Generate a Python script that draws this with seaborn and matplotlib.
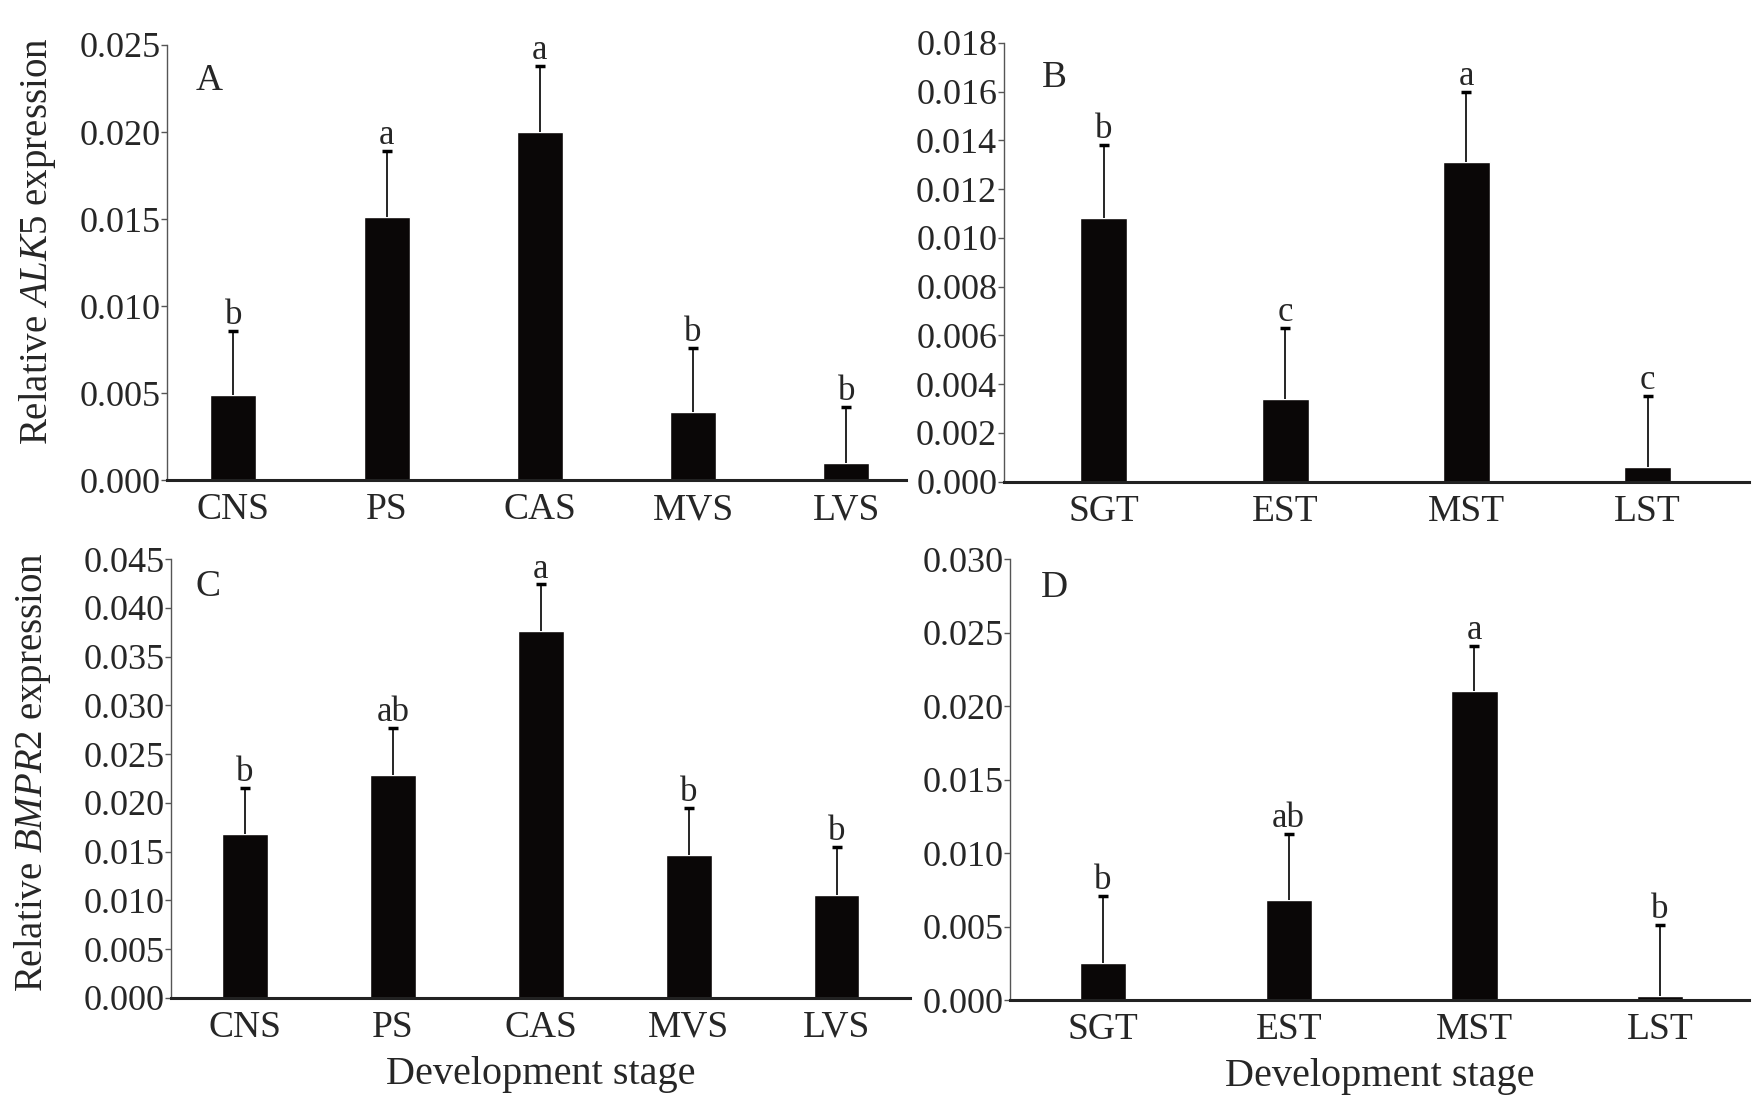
import matplotlib
matplotlib.use("Agg")
import numpy as np
import pandas as pd
import seaborn as sns
import matplotlib.pyplot as plt

# categories
stages = ["CNS", "PS", "CAS", "MVS", "LVS"]
phases = ["SGT", "EST", "MST", "LST"]

# A: ALK5 by development stage
alk5_stage = [0.0049, 0.0151, 0.0200, 0.0039, 0.0010]
alk5_stage_err = [0.0037, 0.0038, 0.0038, 0.0037, 0.0032]
alk5_stage_sig = ["b", "a", "a", "b", "b"]

# B: ALK5 by phase
alk5_phase = [0.0108, 0.0034, 0.0131, 0.0006]
alk5_phase_err = [0.0030, 0.0029, 0.0029, 0.0029]
alk5_phase_sig = ["b", "c", "a", "c"]

# C: BMPR2 by development stage
bmpr2_stage = [0.0168, 0.0229, 0.0376, 0.0147, 0.0106]
bmpr2_stage_err = [0.0047, 0.0048, 0.0048, 0.0048, 0.0049]
bmpr2_stage_sig = ["b", "ab", "a", "b", "b"]

# D: BMPR2 by phase
bmpr2_phase = [0.0025, 0.0068, 0.0210, 0.0003]
bmpr2_phase_err = [0.0046, 0.0045, 0.0031, 0.0048]
bmpr2_phase_sig = ["b", "ab", "a", "b"]

sns.set_theme(style="ticks")
plt.rcParams["font.family"] = ["Liberation Serif", "DejaVu Serif"]
plt.rcParams["mathtext.fontset"] = "custom"
plt.rcParams["mathtext.rm"] = "Liberation Serif"
plt.rcParams["mathtext.it"] = "Liberation Serif:italic"

BAR = "#0a0707"

fig = plt.figure(figsize=(17.58, 10.97), dpi=100, facecolor="white")


def panel(rect, cats, vals, errs, sigs, ymax, ystep, xlim, letter, width):
    ax = fig.add_axes(rect)
    df = pd.DataFrame({"stage": cats, "value": vals})
    sns.barplot(data=df, x="stage", y="value", color=BAR, width=width,
                saturation=1, errorbar=None, ax=ax)
    pos = np.arange(len(cats))
    _, caps, _ = ax.errorbar(pos, vals, yerr=[np.zeros(len(cats)), errs],
                             fmt="none", ecolor="black", elinewidth=1.2,
                             capsize=3.5, capthick=2.5)
    # only the upper cap is drawn in the original
    caps[0].set_visible(False)
    for x, v, e, s in zip(pos, vals, errs, sigs):
        ax.annotate(s, (x, v + e), xytext=(0, 5), textcoords="offset points",
                    ha="center", va="baseline", fontsize=25)
    ax.set_ylim(0, ymax)
    ax.set_xlim(*xlim)
    ticks = np.arange(0, ymax + ystep / 2, ystep)
    ax.set_yticks(ticks)
    ax.set_yticklabels([f"{t:.3f}" for t in ticks])
    ax.tick_params(axis="y", length=4, width=1, pad=1, labelsize=26,
                   color="#555555")
    ax.tick_params(axis="x", length=0, pad=9, labelsize=27)
    sns.despine(ax=ax)
    ax.spines["left"].set_color("#555555")
    ax.spines["left"].set_linewidth(1)
    ax.spines["bottom"].set_color("#222222")
    ax.spines["bottom"].set_linewidth(2.2)
    ax.set_xlabel("")
    ax.set_ylabel("")
    ax.text(letter[1], letter[2], letter[0], transform=ax.transAxes,
            ha="center", va="center", fontsize=27)
    return ax


ax_a = panel([0.0952, 0.5621, 0.4202, 0.3969], stages, alk5_stage,
             alk5_stage_err, alk5_stage_sig, 0.025, 0.005, (-0.43, 4.39),
             ("A", 0.056, 0.917), 0.30)
ax_b = panel([0.5712, 0.5610, 0.4237, 0.4000], phases, alk5_phase,
             alk5_phase_err, alk5_phase_sig, 0.018, 0.002, (-0.55, 3.56),
             ("B", 0.067, 0.92), 0.26)
ax_c = panel([0.0974, 0.0903, 0.4205, 0.4000], stages, bmpr2_stage,
             bmpr2_stage_err, bmpr2_stage_sig, 0.045, 0.005, (-0.50, 4.50),
             ("C", 0.05, 0.936), 0.31)
ax_d = panel([0.5747, 0.0882, 0.4202, 0.4021], phases, bmpr2_phase,
             bmpr2_phase_err, bmpr2_phase_sig, 0.030, 0.005, (-0.50, 3.48),
             ("D", 0.06, 0.936), 0.25)

ax_a.set_ylabel(r"Relative $\it{ALK5}$ expression", fontsize=28)
ax_a.yaxis.set_label_coords(-0.148, 0.55)
ax_c.set_ylabel(r"Relative $\it{BMPR2}$ expression", fontsize=28)
ax_c.yaxis.set_label_coords(-0.160, 0.515)

for ax in (ax_c, ax_d):
    ax.set_xlabel("Development stage", fontsize=29, labelpad=8)

fig.savefig("out.png", dpi=100, facecolor="white")
plt.close(fig)
